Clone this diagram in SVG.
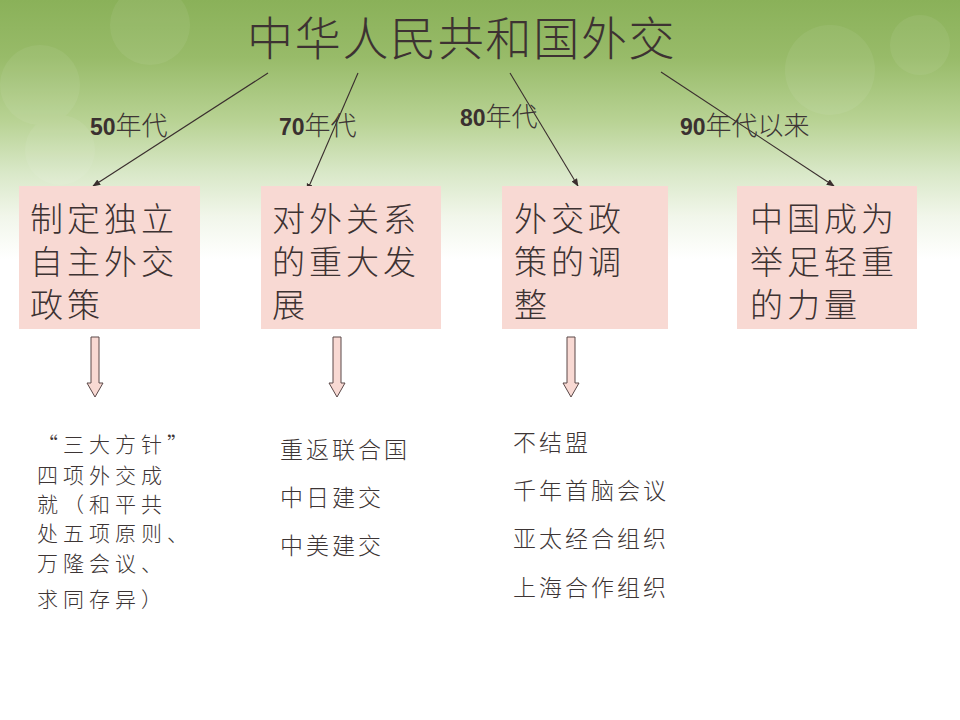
<svg xmlns="http://www.w3.org/2000/svg" width="960" height="720" viewBox="0 0 960 720">
<defs>
<linearGradient id="bg" x1="0" y1="0" x2="0" y2="1">
<stop offset="0" stop-color="#8ab159"/>
<stop offset="0.08" stop-color="#98bb69"/>
<stop offset="0.17" stop-color="#b9d395"/>
<stop offset="0.24" stop-color="#d9e8c8"/>
<stop offset="0.30" stop-color="#f1f6ea"/>
<stop offset="0.36" stop-color="#ffffff"/>
<stop offset="1" stop-color="#ffffff"/>
</linearGradient>
<marker id="ah" viewBox="0 0 10 10" refX="9" refY="5" markerWidth="8" markerHeight="8" markerUnits="userSpaceOnUse" orient="auto">
<path d="M0,1 L10,5 L0,9 Z" fill="#3a2e2e"/>
</marker>
<style>
.title{font-family:"Noto Sans CJK SC","Noto Sans",sans-serif;font-size:46px;fill:#3d3232;font-weight:300;letter-spacing:1.7px}
.lab{font-family:"Noto Sans CJK SC","Noto Sans",sans-serif;font-size:26px;fill:#3d3535;font-weight:300}
.num{font-family:"Liberation Sans",Arial,sans-serif;font-weight:bold;font-size:23px;fill:#3a3030}
.box{fill:#f8d9d3}
.bt{font-family:"Noto Sans CJK SC","Noto Sans",sans-serif;font-size:33px;fill:#3d3232;letter-spacing:4px;font-weight:300}
.lt{font-family:"Noto Sans CJK SC","Noto Sans",sans-serif;font-size:23px;fill:#3d3535;letter-spacing:3px;font-weight:300}
.ls{font-family:"Noto Sans CJK SC","Noto Sans",sans-serif;font-size:21px;fill:#3d3535;letter-spacing:5px;font-weight:300}
.con{stroke:#3a2e2e;stroke-width:1.1;fill:none;marker-end:url(#ah)}
.blk{fill:#f8d9d3;stroke:#5a4848;stroke-width:1}
</style>
</defs>
<rect width="960" height="720" fill="url(#bg)"/>
<g fill="#ffffff" opacity="0.06">
<circle cx="40" cy="85" r="40"/>
<circle cx="150" cy="25" r="40"/>
<circle cx="830" cy="70" r="45"/>
<circle cx="920" cy="45" r="30"/>
<circle cx="60" cy="150" r="35"/>
</g>
<text class="title" x="247" y="55">中华人民共和国外交</text>
<g id="connectors">
<line class="con" x1="268" y1="73" x2="93" y2="186"/>
<line class="con" x1="358" y1="73" x2="307" y2="191"/>
<line class="con" x1="510" y1="73" x2="578" y2="186" stroke-width="1.5"/>
<line class="con" x1="661" y1="72" x2="834" y2="186"/>
<path class="blk" d="M91,337 H99 V383 H103 L95,397 L87,383 H91 Z"/>
<path class="blk" d="M333,337 H341 V383 H345 L337,397 L329,383 H333 Z"/>
<path class="blk" d="M567,337 H575 V383 H579 L571,397 L563,383 H567 Z"/>
</g>
<g id="labels">
<text class="lab" x="90" y="135"><tspan class="num">50</tspan>年代</text>
<text class="lab" x="279" y="135"><tspan class="num">70</tspan>年代</text>
<text class="lab" x="460" y="126"><tspan class="num">80</tspan>年代</text>
<text class="lab" x="680" y="135"><tspan class="num">90</tspan>年代以来</text>
</g>
<g id="n50">
<rect class="box" x="19" y="186" width="181" height="143"/>
<text class="bt" x="30" y="231">制定独立</text>
<text class="bt" x="30" y="274">自主外交</text>
<text class="bt" x="30" y="317">政策</text>
</g>
<g id="n70">
<rect class="box" x="261" y="186" width="180" height="143"/>
<text class="bt" x="272" y="231">对外关系</text>
<text class="bt" x="272" y="274">的重大发</text>
<text class="bt" x="272" y="317">展</text>
</g>
<g id="n80">
<rect class="box" x="502" y="186" width="166" height="143"/>
<text class="bt" x="514" y="231">外交政</text>
<text class="bt" x="514" y="274">策的调</text>
<text class="bt" x="514" y="317">整</text>
</g>
<g id="n90">
<rect class="box" x="737" y="186" width="180" height="143"/>
<text class="bt" x="750" y="231">中国成为</text>
<text class="bt" x="750" y="274">举足轻重</text>
<text class="bt" x="750" y="317">的力量</text>
</g>
<g id="list50">
<text class="ls" x="37" y="452">“三大方针”</text>
<text class="ls" x="37" y="483">四项外交成</text>
<text class="ls" x="37" y="512">就（和平共</text>
<text class="ls" x="37" y="541">处五项原则、</text>
<text class="ls" x="37" y="571">万隆会议、</text>
<text class="ls" x="37" y="607">求同存异）</text>
</g>
<g id="list70">
<text class="lt" x="280" y="458">重返联合国</text>
<text class="lt" x="280" y="506">中日建交</text>
<text class="lt" x="280" y="554">中美建交</text>
</g>
<g id="list80">
<text class="lt" x="513" y="451">不结盟</text>
<text class="lt" x="513" y="499">千年首脑会议</text>
<text class="lt" x="513" y="547">亚太经合组织</text>
<text class="lt" x="513" y="596">上海合作组织</text>
</g>
</svg>
